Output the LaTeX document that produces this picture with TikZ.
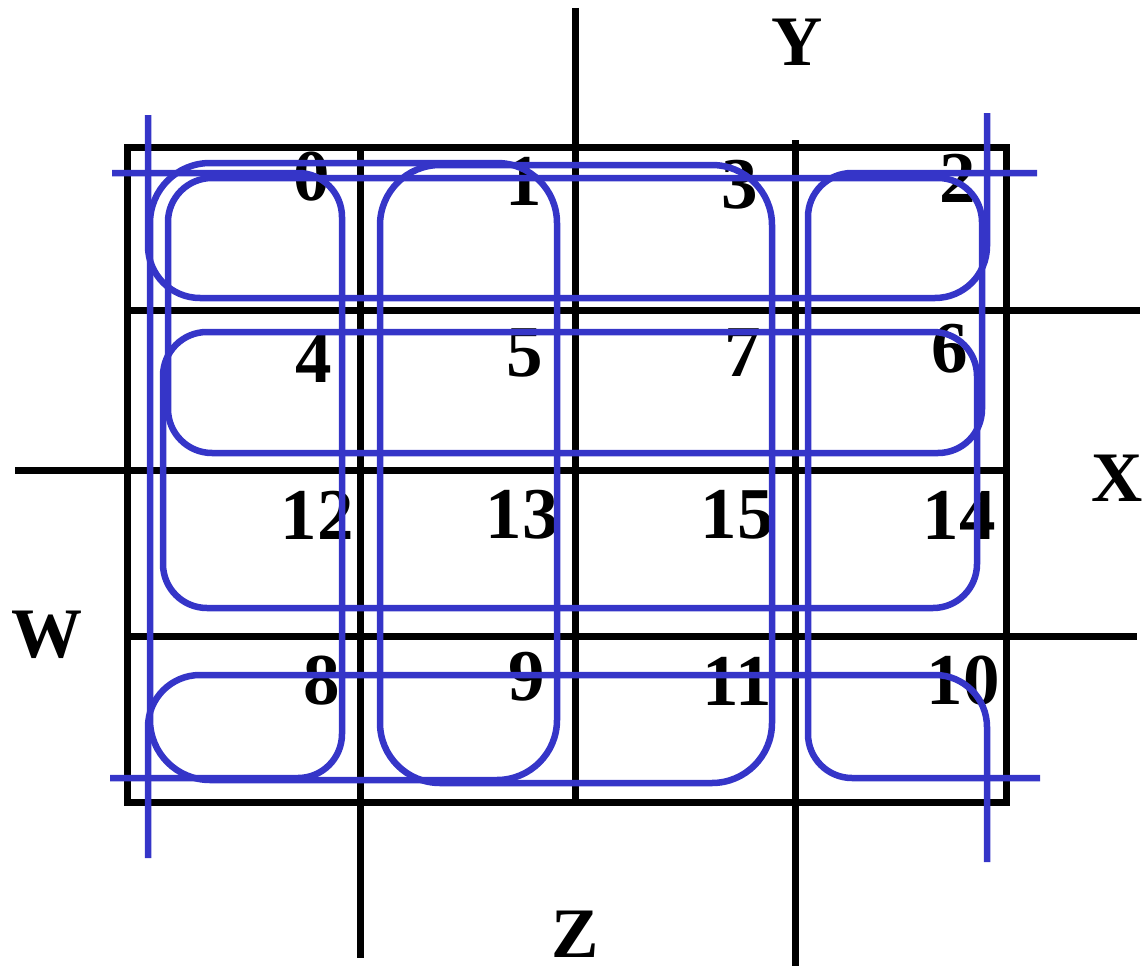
\documentclass[tikz,border=0pt]{standalone}
\usepackage{fontspec}
\setmainfont{Liberation Serif}
\definecolor{loopblue}{HTML}{3535C8}

\begin{document}
\begin{tikzpicture}[x=1pt, y=-1pt,
  kgrid/.style={line width=7pt, black},
  kloop/.style={line width=6.5pt, loopblue, rounded corners=#1},
  kloop/.default=44pt,
  num/.style={font=\fontsize{73}{73}\selectfont\bfseries, inner sep=0pt},
  var/.style={font=\fontsize{71}{71}\selectfont\bfseries, inner sep=0pt}
]
\useasboundingbox (0,0) rectangle (1144,966);

% map grid
\draw[kgrid] (127,147) rectangle (1006,802);
\draw[kgrid] (360,147) -- (360,958);
\draw[kgrid] (575,8) -- (575,802);
\draw[kgrid] (795,140) -- (795,966);
\draw[kgrid] (125,310) -- (1140,310);
\draw[kgrid] (15,470) -- (1006,470);
\draw[kgrid] (127,636) -- (1137,636);

% variables
\node[var] (Y) at (797,42) {Y};
\node[var] (X) at (1117,478) {X};
\node[var] (W) at (47,635) {W};
\node[var] (Z) at (575,934) {Z};

% cell numbers
\node[num] (c0) at (312,177) {0};
\node[num] (c1) at (524,181) {1};
\node[num] (c3) at (740,185) {3};
\node[num] (c2) at (958,178) {2};
\node[num] (c4) at (314,358) {4};
\node[num] (c5) at (525,353) {5};
\node[num] (c7) at (743,353) {7};
\node[num] (c6) at (950,349) {6};
\node[num] (c12) at (317,515) {12};
\node[num] (c13) at (522,515) {13};
\node[num] (c15) at (737,515) {15};
\node[num] (c14) at (959,515) {14};
\node[num] (c8) at (322,681) {8};
\node[num] (c9) at (527,677) {9};
\node[num] (c11) at (737,681) {11};
\node[num] (c10) at (963,681) {10};

% groups
\draw[kloop] (168,178) rectangle (982,453);
\draw[kloop] (163,332) rectangle (977,608);
\draw[kloop=60pt] (150,163) rectangle (557,780);
\draw[kloop=60pt] (380,165) rectangle (772,783);
% wrap top/bottom
\draw[kloop=52pt] (148,115) -- (148,298) -- (987,298) -- (987,113);
\draw[kloop=52pt] (148,858) -- (148,675) -- (987,675) -- (987,862);
% wrap left/right
\draw[kloop] (112,173) -- (342,173) -- (342,778) -- (110,778);
\draw[kloop] (1037,173) -- (808,173) -- (808,778) -- (1040,778);
\end{tikzpicture}
\end{document}
